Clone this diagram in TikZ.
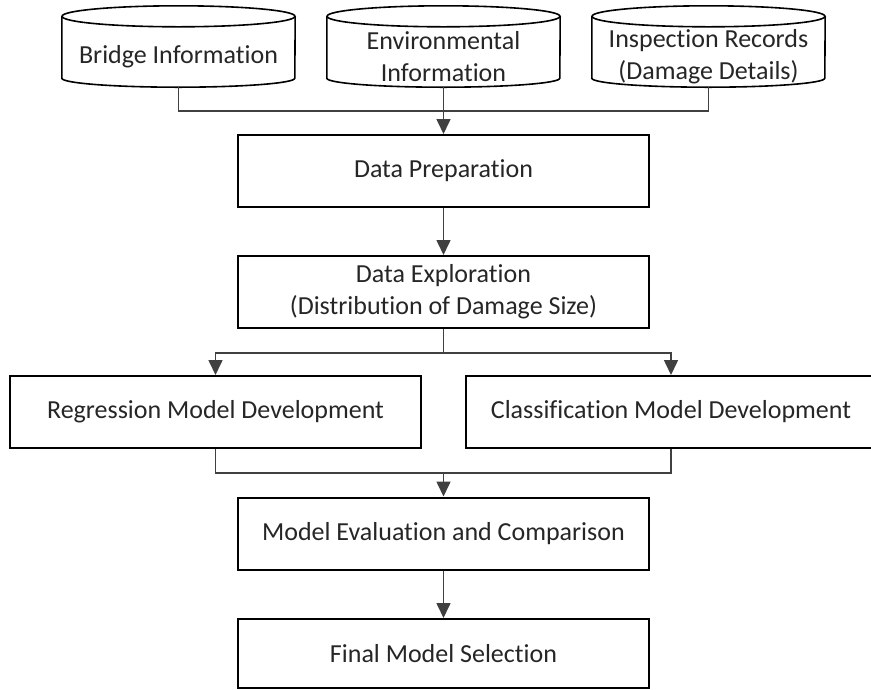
\documentclass[tikz,border=0pt]{standalone}
\usepackage{fontspec}
\setmainfont{Carlito}[Ligatures={NoCommon}]
\usetikzlibrary{arrows.meta,calc}
\definecolor{linkgray}{HTML}{404040}
\definecolor{textgray}{HTML}{262626}
\begin{document}
\begin{tikzpicture}[x=1pt,y=-1pt,
  every node/.style={font=\fontsize{26}{32}\selectfont,text=textgray,align=center,inner sep=0pt},
  stepbox/.style={draw=black,line width=2pt,minimum width=411pt,minimum height=72pt},
  dbbody/.style={minimum width=233pt,minimum height=60pt},
  dbline/.style={draw=black,line width=1.6pt},
  conn/.style={draw=linkgray,line width=1.6pt},
  arr/.style={conn,-{Triangle[width=14pt,length=15pt]}}]
\useasboundingbox (0,0) rectangle (871,689);
\fill[white] (0,0) rectangle (871,689);
\clip (0,0) rectangle (871,689);

% data sources (cylinders); each node is the body below the top ellipse
\node[dbbody] (bridge) at (178.5,57) {Bridge Information};
\node[dbbody] (env)    at (443.5,57) {Environmental\\Information};
\node[dbbody] (insp)   at (708.5,57) {Inspection Records\\(Damage Details)};
\foreach \n in {bridge,env,insp}{
  \draw[dbline] ([yshift=10.5pt]\n.north west) -- ([yshift=9pt]\n.south west)
     arc[start angle=180,end angle=360,x radius=116.5pt,y radius=9pt]
     -- ([yshift=10.5pt]\n.north east);
  \draw[dbline] ([yshift=10.5pt]\n.north) ellipse[x radius=116.5pt,y radius=10.5pt];
}

% process steps
\node[stepbox] (prep)  at (443.5,171)   {Data Preparation};
\node[stepbox] (expl)  at (443.5,292)   {Data Exploration\\(Distribution of Damage Size)};
\node[stepbox] (reg)   at (215.5,412)   {Regression Model Development};
\node[stepbox] (cls)   at (671,412)     {Classification Model Development};
\node[stepbox] (eval)  at (443.5,533.5) {Model Evaluation and Comparison};
\node[stepbox,minimum height=69pt] (final) at (443.5,653.5) {Final Model Selection};

% junction points
\coordinate (srcjoin) at (443.5,111);
\coordinate (split)   at (443.5,353);
\coordinate (merge)   at (443.5,473);

% connectors
\draw[conn] (bridge.south) |- (srcjoin) -| (insp.south);
\draw[arr] (env.south) -- (prep.north);
\draw[arr] (prep.south) -- (expl.north);
\draw[conn] (expl.south) -- (split);
\draw[arr] (split) -| (reg.north);
\draw[arr] (split) -| (cls.north);
\draw[conn] (reg.south) |- (merge) -| (cls.south);
\draw[arr] (merge) -- (eval.north);
\draw[arr] (eval.south) -- (final.north);
\end{tikzpicture}
\end{document}
